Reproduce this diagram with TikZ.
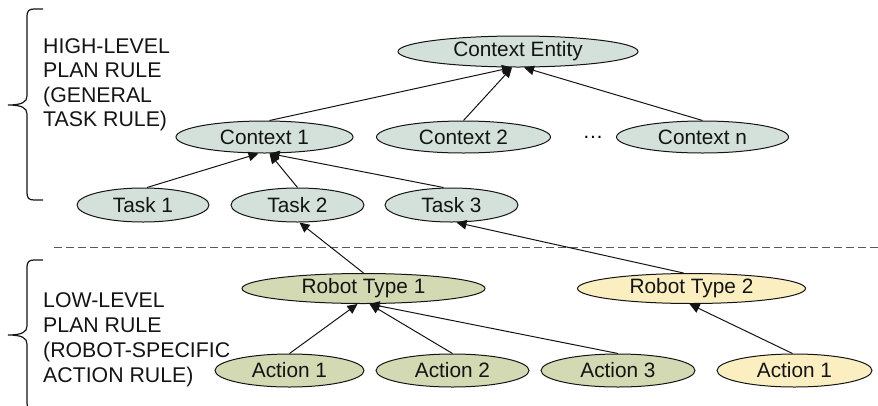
\documentclass[tikz,border=0pt]{standalone}
\usepackage{fontspec}
\setmainfont{Liberation Sans}
\usetikzlibrary{arrows.meta,shapes.geometric,calc}
\definecolor{ctxfill}{RGB}{211,225,218}
\definecolor{grnfill}{RGB}{211,217,179}
\definecolor{ylwfill}{RGB}{251,239,194}
\definecolor{edgecol}{RGB}{20,20,20}
\begin{document}
\begin{tikzpicture}[x=1pt,y=-1pt,
  ell/.style={ellipse,draw=edgecol,line width=1pt,inner sep=0pt,
    font=\fontsize{20.8}{24}\selectfont,text=black!92},
  ctx/.style={ell,fill=ctxfill},
  grn/.style={ell,fill=grnfill},
  ylw/.style={ell,fill=ylwfill},
  arr/.style={-{Triangle[length=10pt,width=9.5pt]},line width=1pt,draw=edgecol},
  brace/.style={line width=1.2pt,draw=black!92},
  sidelabel/.style={anchor=north west,inner sep=0pt,align=left,text=black!92},
]
\useasboundingbox (0,0) rectangle (878,405);

% nodes
\node[ctx,minimum width=240,minimum height=31] (ce) at (518,51.5) {Context Entity};
\node[ctx,minimum width=177,minimum height=32] (c1) at (264.5,137) {Context 1};
\node[ctx,minimum width=174,minimum height=32] (c2) at (463.5,137) {Context 2};
\node[ctx,minimum width=172,minimum height=32] (cn) at (702.5,137) {Context n};
\node[inner sep=0pt,font=\fontsize{20.8}{24}\selectfont] (dots) at (593,137) {…};
\node[ctx,minimum width=132,minimum height=34] (t1) at (143,205) {Task 1};
\node[ctx,minimum width=133,minimum height=34] (t2) at (297.5,205) {Task 2};
\node[ctx,minimum width=133,minimum height=34] (t3) at (451.5,205) {Task 3};
\node[grn,minimum width=243,minimum height=30] (r1) at (363.5,288.5) {Robot Type 1};
\node[ylw,minimum width=228,minimum height=30] (r2) at (691.5,288.5) {Robot Type 2};
\node[grn,minimum width=149,minimum height=33] (a1) at (289.5,370.5) {Action 1};
\node[grn,minimum width=153,minimum height=33] (a2) at (452.5,370.5) {Action 2};
\node[grn,minimum width=154,minimum height=33] (a3) at (618,370.5) {Action 3};
\node[ylw,minimum width=155,minimum height=33] (a4) at (794.5,370.5) {Action 1};

% side labels
\node[sidelabel,font=\fontsize{21.3}{24.5}\selectfont] (hl) at (43,38)
  {HIGH-LEVEL\\PLAN RULE\\(GENERAL\\TASK RULE)};
\node[sidelabel,font=\fontsize{21.3}{25.3}\selectfont] (ll) at (43,292)
  {LOW-LEVEL\\PLAN RULE\\(ROBOT-SPECIFIC\\ACTION RULE)};

% braces
\draw[brace] (43,9) -- (34,9) .. controls (29,9) and (27,11) .. (27,16) -- (27,96)
  .. controls (27,102) and (22,105) .. (8,105)
  .. controls (22,105) and (27,108) .. (27,114) -- (27,193)
  .. controls (27,198) and (29,200) .. (34,200) -- (43,200);
\draw[brace] (43,260) -- (34,260) .. controls (29,260) and (27,262) .. (27,267) -- (27,326)
  .. controls (27,332) and (22,335) .. (8,335)
  .. controls (22,335) and (27,338) .. (27,344) -- (27,403)
  .. controls (27,408) and (29,410) .. (34,410) -- (43,410);

% dashed separator
\coordinate (dl) at (54,247.5);
\coordinate (dr) at (878,247.5);
\draw[dash pattern=on 7.5pt off 4.5pt,line width=1.2pt,draw=black!65] (dl) -- (dr);

% connectors
\draw[arr] ($(c1.north)+(5,0)$) -- ($(ce.south)+(-6,0)$);
\draw[arr] (c2.north) -- ($(ce.south)+(-6,0)$);
\draw[arr] (cn.north) -- ($(ce.south)+(6,0)$);
\draw[arr] ($(t1.north)+(4,0)$) -- ($(c1.south)+(-6,0)$);
\draw[arr] (t2.north) -- ($(c1.south)+(5,0)$);
\draw[arr] ($(t3.north)+(-8,0)$) -- ($(c1.south)+(5,0)$);
\draw[arr] (r1.north) -- ($(t2.south)+(2,0)$);
\draw[arr] ($(r2.north)+(-8,0)$) -- ($(t3.south)+(5,0)$);
\draw[arr] (a1.north) -- ($(r1.south)+(-6,0)$);
\draw[arr] (a2.north) -- ($(r1.south)+(6,0)$);
\draw[arr] (a3.north) -- ($(r1.south)+(6,0)$);
\draw[arr] ($(a4.north)+(-2,0)$) -- ($(r2.south)+(-2,0)$);
\end{tikzpicture}
\end{document}
